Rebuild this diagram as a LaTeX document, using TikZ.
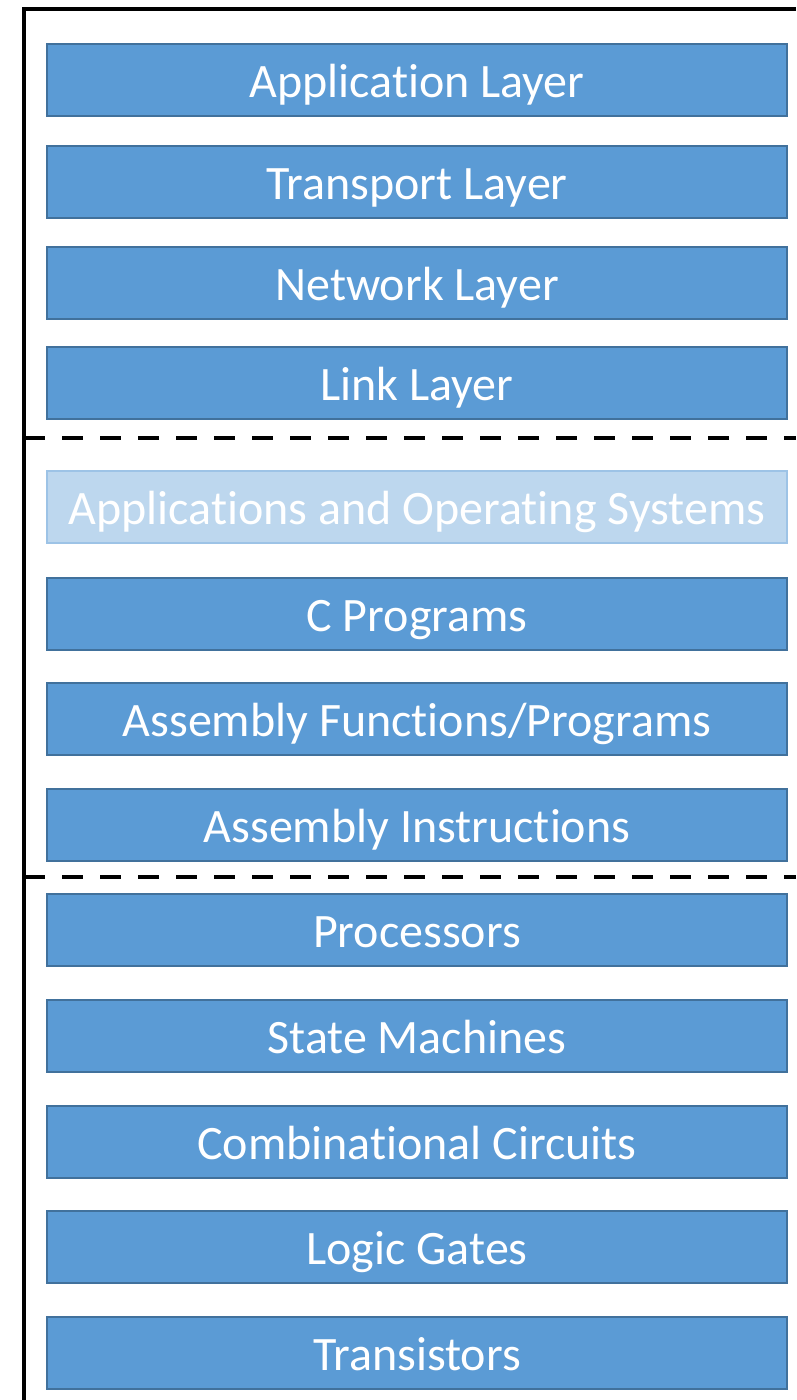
\documentclass[tikz,border=0pt]{standalone}
\usepackage{fontspec}
\setmainfont[Ligatures=NoCommon]{Carlito}
\usetikzlibrary{positioning}
\definecolor{boxblue}{HTML}{5B9BD5}
\definecolor{boxedge}{HTML}{41719C}
\definecolor{paleblue}{HTML}{BDD7EE}
\definecolor{paleedge}{HTML}{9DC3E6}
\tikzset{
x=1pt,y=1pt,
lay/.style={rectangle,draw=boxedge,fill=boxblue,line width=2pt,
  minimum width=740pt,minimum height=72pt,inner sep=0pt,
  text height=40pt,text depth=6pt,
  text=white,font=\fontsize{48}{52}\selectfont},
laypale/.style={lay,draw=paleedge,fill=paleblue},
frame/.style={line width=4pt},
sep/.style={line width=4pt,dash pattern=on 21pt off 17pt},
}
\begin{document}
\begin{tikzpicture}
\useasboundingbox (0,0) rectangle (796,-1400);
% network stack
\node[lay] (app) at (417,-80) {Application Layer};
\node[lay] (trans) at (417,-182) {Transport Layer};
\node[lay] (net) at (417,-283) {Network Layer};
\node[lay] (link) at (417,-383) {Link Layer};
% software
\node[laypale] (os) at (417,-507) {Applications and Operating Systems};
\node[lay] (cprog) at (417,-614) {C Programs};
\node[lay] (asmfn) at (417,-719) {Assembly Functions/Programs};
\node[lay] (asmin) at (417,-825) {Assembly Instructions};
% hardware
\node[lay] (proc) at (417,-930) {Processors};
\node[lay] (fsm) at (417,-1036) {State Machines};
\node[lay] (comb) at (417,-1142) {Combinational Circuits};
\node[lay] (gates) at (417,-1247) {Logic Gates};
\node[lay] (trs) at (417,-1353) {Transistors};

\coordinate (topr) at (796,-9);
\coordinate (topl) at (24,-9);
\coordinate (botl) at (24,-1400);
\coordinate (sepa) at (24,-438);
\coordinate (sepb) at (24,-877);
\draw[frame] (topr) -- (topl) -- (botl);
\draw[sep] (sepa) -- (sepa -| topr);
\draw[sep] (sepb) -- (sepb -| topr);
\end{tikzpicture}
\end{document}
